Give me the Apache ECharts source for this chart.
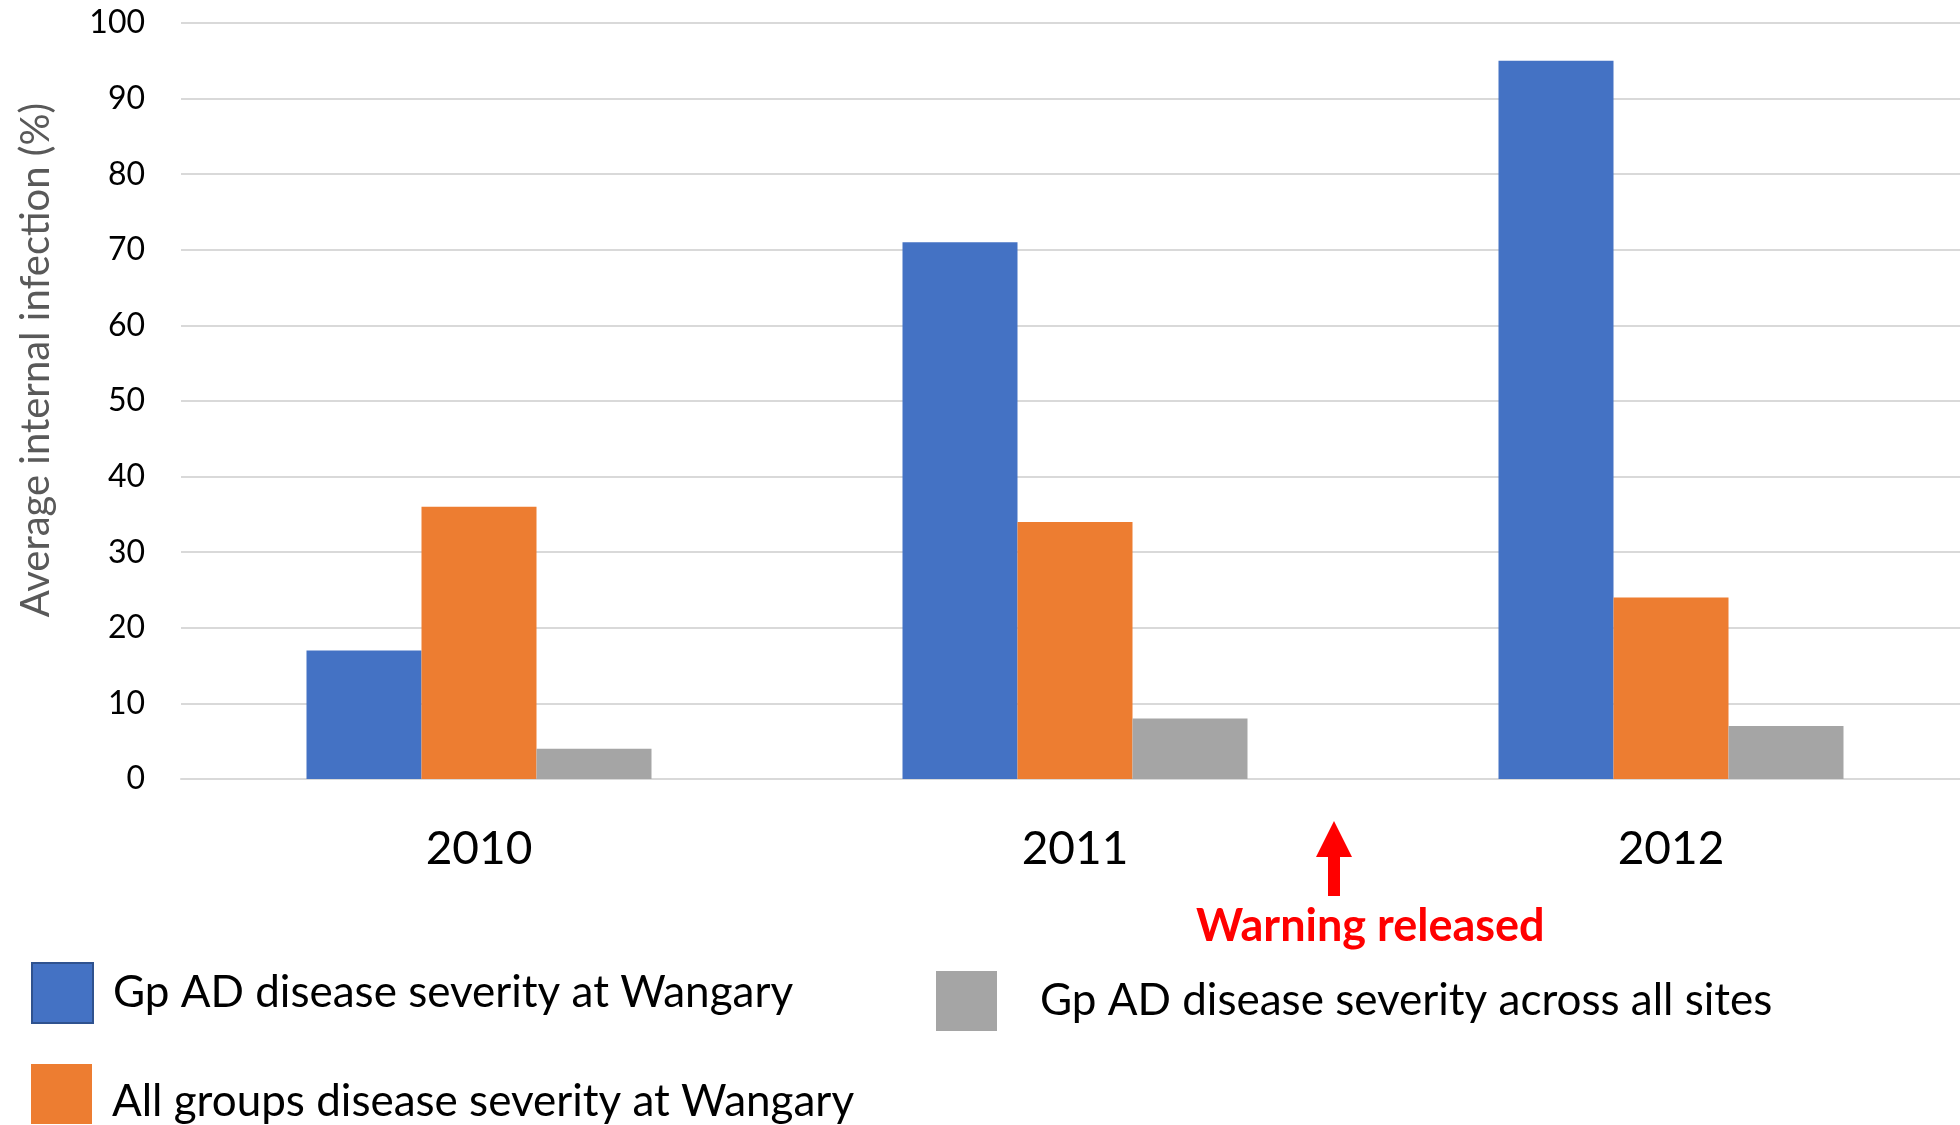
<!DOCTYPE html>
<html>
<head>
<meta charset="utf-8">
<script src="https://cdn.jsdelivr.net/npm/echarts@6/dist/echarts.min.js"></script>
<style>
html,body{margin:0;padding:0;background:#fff;overflow:hidden;}
#chart{width:1980px;height:1125px;}
</style>
</head>
<body>
<div id="chart"></div>
<script>
const categories = ['2010', '2011', '2012'];
const seriesNames = [
  'Gp AD disease severity at Wangary',
  'All groups disease severity at Wangary',
  'Gp AD disease severity across all sites'
];
const gpWangary = [17, 71, 95];
const allGroupsWangary = [36, 34, 24];
const gpAllSites = [4, 8, 7];
const yTicks = { min: 0, max: 100, interval: 10 };
const yTitle = 'Average internal infection (%)';
const annotationText = 'Warning released';

const colors = ['#4472C4', '#ED7D31', '#A5A5A5'];
const FONT = 'Lato';

const chart = echarts.init(document.getElementById('chart'), null, { renderer: 'canvas' });

const legendBase = {
  orient: 'vertical',
  padding: 0,
  icon: 'rect',
  itemWidth: 61,
  itemHeight: 60,
  selectedMode: false,
  textStyle: { fontFamily: FONT, fontSize: 44, color: '#000' }
};

chart.setOption({
  animation: false,
  backgroundColor: '#fff',
  color: colors,
  textStyle: { fontFamily: FONT },
  grid: { left: 181, top: 23, width: 1788, height: 756, containLabel: false },
  xAxis: {
    type: 'category',
    data: categories,
    axisLine: { show: true, lineStyle: { color: '#D9D9D9', width: 2 } },
    axisTick: { show: false },
    axisLabel: { fontFamily: FONT, fontSize: 46, color: '#000', margin: 47 }
  },
  yAxis: {
    type: 'value',
    min: yTicks.min,
    max: yTicks.max,
    interval: yTicks.interval,
    name: yTitle,
    nameLocation: 'middle',
    nameRotate: 90,
    nameGap: 125,
    nameTextStyle: { fontFamily: FONT, fontSize: 40, color: '#595959', padding: [0, 0, 0, 82] },
    axisLine: { show: false },
    axisTick: { show: false },
    axisLabel: { fontFamily: FONT, fontSize: 32, color: '#000', margin: 36 },
    splitLine: { lineStyle: { color: '#D9D9D9', width: 2 } }
  },
  legend: [
    Object.assign({}, legendBase, {
      left: 31, top: 962,
      data: [{ name: seriesNames[0], itemStyle: { borderColor: '#2F528F', borderWidth: 2 } }],
      textStyle: Object.assign({}, legendBase.textStyle, { padding: [0, 0, 0, 15] })
    }),
    Object.assign({}, legendBase, {
      left: 31, top: 1064,
      data: [seriesNames[1]],
      formatter: function (n) { return '{t|' + n + '}'; },
      textStyle: Object.assign({}, legendBase.textStyle, {
        padding: [0, 0, 0, 15],
        rich: { t: { fontFamily: FONT, fontSize: 44, color: '#000', padding: [16, 0, 0, 0] } }
      })
    }),
    Object.assign({}, legendBase, {
      left: 936, top: 971,
      data: [seriesNames[2]],
      textStyle: Object.assign({}, legendBase.textStyle, { padding: [0, 0, 0, 38] })
    })
  ],
  series: [
    { name: seriesNames[0], type: 'bar', data: gpWangary, barWidth: 115, barGap: '0%' },
    { name: seriesNames[1], type: 'bar', data: allGroupsWangary, barWidth: 115, barGap: '0%' },
    { name: seriesNames[2], type: 'bar', data: gpAllSites, barWidth: 115, barGap: '0%' }
  ],
  graphic: [
    {
      type: 'polygon',
      shape: {
        points: [[1334, 821], [1352, 857], [1340, 857], [1340, 896], [1328, 896], [1328, 857], [1316, 857]]
      },
      style: { fill: '#FF0000' }
    },
    {
      type: 'text',
      left: 1196,
      top: 904,
      style: {
        text: annotationText,
        fill: '#FF0000',
        font: 'bold 45px ' + FONT
      }
    }
  ]
});
</script>
</body>
</html>
